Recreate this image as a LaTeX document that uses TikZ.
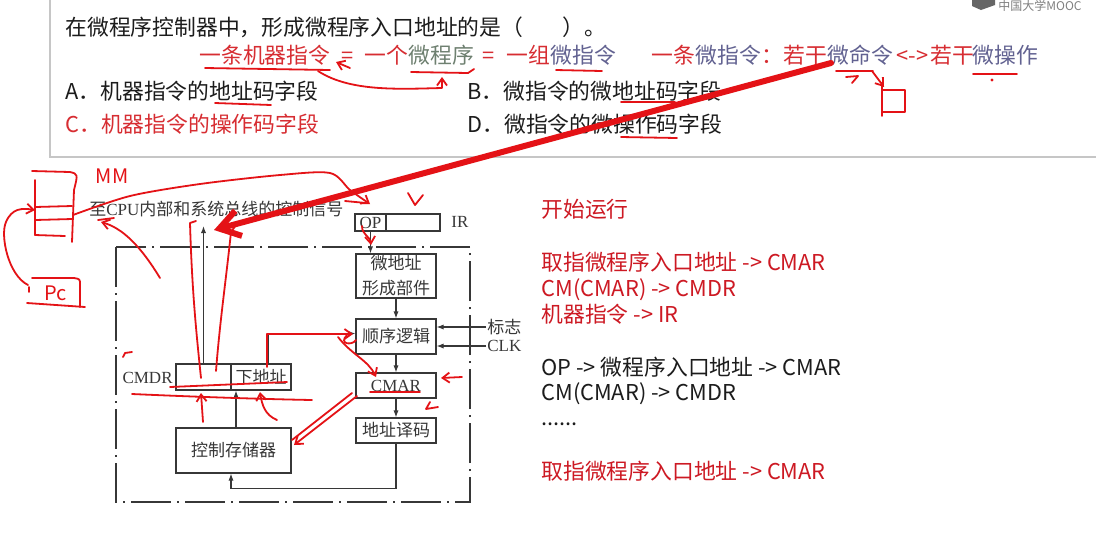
\documentclass[tikz,border=0pt]{standalone}
\usepackage{fontspec}
\setmainfont{Noto Sans CJK SC}
\newfontfamily\tnr{Liberation Serif}
\usetikzlibrary{arrows.meta}

\definecolor{ink}{RGB}{28,28,28}
\definecolor{dgray}{RGB}{55,55,55}
\definecolor{qred}{RGB}{215,45,50}
\definecolor{colred}{RGB}{205,25,35}
\definecolor{penred}{RGB}{228,18,22}
\definecolor{sage}{RGB}{110,128,112}
\definecolor{slate}{RGB}{98,98,145}

\begin{document}
\begin{tikzpicture}[x=0.5pt,y=-0.5pt,
  txt/.style={anchor=base west,inner sep=0pt,font=\fontsize{10.9pt}{13pt}\selectfont},
  lbl/.style={inner sep=0.5pt,font=\fontsize{8.5pt}{10pt}\selectfont,text=dgray},
  blk/.style={draw=dgray,line width=0.6pt,inner sep=0pt,align=center,
    font=\fontsize{8.5pt}{12.5pt}\selectfont,text=dgray},
  sig/.style={draw=dgray,line width=0.6pt,-{Latex[length=3.5pt,width=2.6pt]}},
  frm/.style={draw=dgray,line width=0.6pt,dash pattern=on 20pt off 3pt on 1pt off 3pt},
  pen/.style={draw=penred,line width=0.9pt,line cap=round,line join=round},
  penarr/.style={pen,-{Straight Barb[length=3.5pt,width=5pt]}}]

\useasboundingbox (0,0) rectangle (1096,543);
\fill[white] (0,0) rectangle (1096,543);

% question panel
\draw[gray!45,line width=1.1pt] (50,0) -- (50,157) -- (1096,157);
\fill[gray!80!black] (972,0) -- (995,0) -- (995,5) -- (981,10) -- (972,6) -- cycle;
\node[anchor=west,inner sep=0pt,text=gray,font=\fontsize{6pt}{7pt}\selectfont] (mooc) at (998,6) {中国大学MOOC};

\node[txt,text=ink] (q) at (65,35) {在微程序控制器中，形成微程序入口地址的是（\hspace{1.8em}）。};

\node[txt,text=qred] (l1) at (199,63) {一条机器指令};
\node[txt,text=qred] (l2) at (341,63) {=};
\node[txt,text=qred] (l3) at (364,63) {一个};
\node[txt,text=sage] (l4) at (408,63) {微程序};
\node[txt,text=qred] (l5) at (482,63) {=};
\node[txt,text=qred] (l6) at (506,63) {一组};
\node[txt,text=slate] (l7) at (550,63) {微指令};
\node[txt,text=qred] (l8) at (651,63) {一条};
\node[txt,text=slate] (l9) at (695,63) {微指令};
\node[txt,text=qred] (l10) at (761,63) {：若干};
\node[txt,text=slate] (l11) at (827,63) {微命令};
\node[txt,text=qred] (l12) at (896,63) {<->};
\node[txt,text=qred] (l13) at (930,63) {若干};
\node[txt,text=slate] (l14) at (972,63) {微操作};

\node[txt,text=ink] (optA) at (65,99) {A．机器指令的地址码字段};
\node[txt,text=ink] (optB) at (467,99) {B．微指令的微地址码字段};
\node[txt,text=qred] (optC) at (65,132) {C．机器指令的操作码字段};
\node[txt,text=ink] (optD) at (467,132) {D．微指令的微操作码字段};

% steps on the right
\node[txt,text=colred] (s1) at (541,217) {开始运行};
\node[txt,text=colred] (s2) at (541,270) {取指微程序入口地址 -> CMAR};
\node[txt,text=colred] (s3) at (541,296) {CM(CMAR) -> CMDR};
\node[txt,text=colred] (s4) at (541,322) {机器指令 -> IR};
\node[txt,text=ink] (s5) at (541,375) {OP -> 微程序入口地址 -> CMAR};
\node[txt,text=ink] (s6) at (541,400) {CM(CMAR) -> CMDR};
\node[txt,text=ink] (s7) at (541,425) {......};
\node[txt,text=colred] (s8) at (541,479) {取指微程序入口地址 -> CMAR};

% controller
\draw[frm] (116,247) rectangle (470,502);
\node[lbl,anchor=west] (ctrl) at (88,209) {至{\tnr CPU}内部和系统总线的控制信号};
\coordinate (sigtop) at (203.5,226);

\node[blk,minimum width=15.5pt,minimum height=8.5pt] (op) at (370.5,222.5) {\tnr OP};
\node[blk,minimum width=27pt,minimum height=8.5pt] (irr) at (413,222.5) {};
\node[lbl,anchor=west] (ir) at (450,222) {\tnr IR};

\node[blk,minimum width=40pt,minimum height=22pt] (wdz) at (396,276) {微地址\\形成部件};
\node[blk,minimum width=40pt,minimum height=17.5pt] (sxlj) at (396,336.5) {顺序逻辑};
\node[blk,minimum width=40pt,minimum height=12.5pt] (cmar) at (396,385.5) {\tnr CMAR};
\node[blk,minimum width=40pt,minimum height=12.5pt] (dzym) at (396,430.5) {地址译码};
\node[blk,minimum width=57.5pt,minimum height=22.5pt] (kzcc) at (233.5,450.5) {控制存储器};
\node[blk,minimum width=27.5pt,minimum height=13pt] (cmdrl) at (203.5,377) {};
\node[blk,minimum width=30pt,minimum height=13pt] (xdz) at (261,377) {下地址};
\node[lbl,anchor=east] (cmdr) at (174,378) {\tnr CMDR};
\node[lbl,anchor=west] (bz) at (486,327) {标志};
\node[lbl,anchor=west] (clk) at (486,346) {\tnr CLK};

\draw[sig] (cmdrl.north) -- (sigtop);
\draw[sig] (op.south) -- (op.south |- wdz.north);
\draw[sig] (wdz.south) -- (sxlj.north);
\draw[sig] (sxlj.south) -- (cmar.north);
\draw[sig] (cmar.south) -- (dzym.north);
\draw[sig] (bz.west) -- (bz.west -| sxlj.east);
\draw[sig] (clk.west) -- (clk.west -| sxlj.east);
\draw[sig] ([xshift=3.5pt]xdz.north) |- ([yshift=1.5pt]sxlj.west);
\draw[sig] ([xshift=1.25pt]kzcc.north) -- ([xshift=1.25pt]kzcc.north |- xdz.south);
\draw[sig] (dzym.south) -- ++(0,45) -| ([xshift=-1.25pt]kzcc.south);

% pen marks on the question
\draw[penred,line width=3pt,line cap=round,-{Straight Barb[length=10pt,width=13pt]}] (831,63) -- (214,230);
\draw[pen] (205,68) -- (330,70);
\draw[penarr] (350,68) -- (336,62);
\draw[penarr] (318,71) .. controls (350,92) and (400,89) .. (442,88) -- (442,77);
\draw[pen] (411,72) -- (468,73) -- (474,69);
\draw[pen] (556,70) -- (602,71);
\draw[pen] (836,71) -- (873,71);
\draw[pen] (846,77) -- (858,76) -- (852,83);
\draw[penarr] (872,71) -- (884,87);
\draw[pen] (882,83) -- (882,116);
\draw[pen] (882,90) -- (905,90) -- (905,112) -- (882,112);
\draw[pen] (973,74) -- (1017,74);
\fill[penred] (992,80) circle (1.6);
\draw[pen] (215,103) -- (271,105);
\draw[pen] (621,102) -- (675,102);
\draw[pen] (621,137) -- (677,138);

% pen marks: memory and PC
\node[text=penred,inner sep=0pt,font=\fontsize{10pt}{10pt}\selectfont] (mm) at (112,176) {MM};
\node[text=penred,inner sep=0pt,font=\fontsize{10pt}{10pt}\selectfont] (pc) at (56,293) {Pc};
\draw[pen] (32,171) -- (70,172) .. controls (78,174) .. (74,190) -- (72,242);
\draw[pen] (35,180) -- (35,235);
\draw[pen] (35,207) -- (72,206);
\draw[pen] (35,220) -- (72,219);
\draw[pen] (35,235) -- (65,236);
\draw[penarr] (28,285) .. controls (8,275) and (0,235) .. (6,222) .. controls (12,208) and (22,208) .. (35,210);
\draw[pen] (32,278) -- (74,278) .. controls (80,279) .. (80,285) -- (80,307);
\draw[pen] (27,303) -- (85,307);
\draw[pen] (29,287) -- (29,292);
\draw[penarr] plot[smooth] coordinates {(73,215) (130,196) (200,184) (280,175) (330,173) (350,190) (370,204)};
\draw[pen] (345,201) -- (366,203);
\draw[pen] (408,193) -- (415,205) -- (423,195);
\draw[penarr] (362,226) .. controls (362,235) and (370,236) .. (371,245);

% pen marks on the controller
\draw[penarr] (160,278) .. controls (140,245) and (122,228) .. (101,222);
\draw[pen] (98,220) -- (114,218);
\draw[pen] (196,221) -- (190,223) .. controls (192,290) and (196,330) .. (201,378);
\draw[pen] (236,225) -- (231,232) .. controls (226,280) and (220,320) .. (216,371);
\draw[pen] (170,387) -- (287,382);
\draw[pen] (132,394) .. controls (200,397) and (260,399) .. (312,400);
\draw[penarr] (203,422) -- (201,393);
\draw[penarr] (277,420) .. controls (265,415) and (262,405) .. (260,392);
\draw[pen] (123,357) -- (125,353) -- (132,352);
\draw[penarr] (267,367) -- (267,334) -- (353,334);
\draw[pen] (347,335) .. controls (338,344) and (352,346) .. (356,340);
\draw[penarr] (338,337) .. controls (352,355) and (368,360) .. (376,377);
\draw[penarr] (357,396) -- (294,445);
\draw[pen] (352,393) -- (292,440);
\draw[penarr] (462,377) -- (441,378);
\draw[pen] (370,392) -- (420,392);
\draw[pen] (430,402) -- (426,409) -- (438,407);
\end{tikzpicture}
\end{document}
